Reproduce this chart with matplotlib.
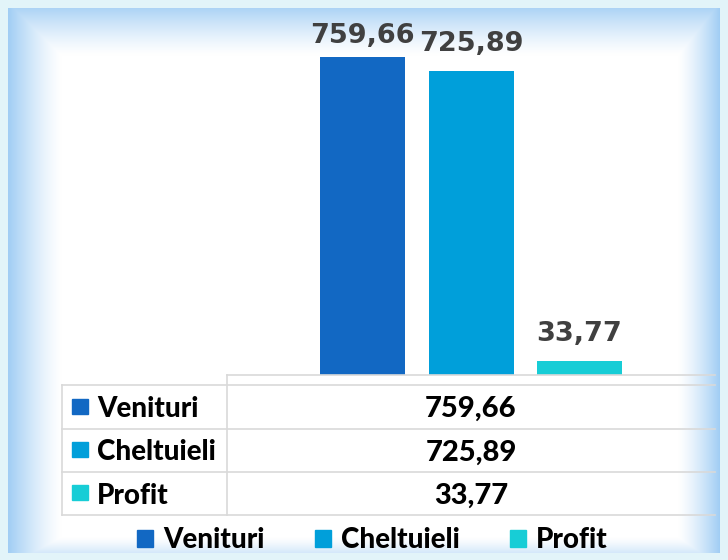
import numpy as np
import matplotlib
matplotlib.use('Agg')
import matplotlib.pyplot as plt
from matplotlib.patches import Patch, Rectangle

series = ['Venituri', 'Cheltuieli', 'Profit']
values = [759.66, 725.89, 33.77]
colors = ['#1268c3', '#009fda', '#17cdd6']

def fmt(v):
    return f"{v:.2f}".replace('.', ',')

W, H = 728, 560
fig = plt.figure(figsize=(W / 100, H / 100), dpi=100)

def px(x0, y0, x1, y1):
    return [x0 / W, 1 - y1 / H, (x1 - x0) / W, (y1 - y0) / H]

# ---- decorative background (bevelled light-blue frame) ----
bg = fig.add_axes([0, 0, 1, 1], zorder=-10)
yy, xx = np.mgrid[0:H, 0:W] + 0.5
sl = np.clip(1 - (xx - 8) / 54, 0, 1)
st = np.clip(1 - (yy - 8) / 48, 0, 1) * 0.9
sr = np.clip(1 - (720 - xx) / 42, 0, 1)
sb = np.clip(1 - (553 - yy) / 16, 0, 1) * 0.55
s = np.maximum.reduce([sl, st, sr, sb]) ** 1.3
blue = np.array([160, 205, 244]) / 255
img = (1 - s[..., None]) * 1.0 + s[..., None] * blue
outer = (xx < 8) | (yy < 8) | (xx > 720) | (yy > 553)
img[outer] = np.array([226, 244, 249]) / 255
bg.imshow(img, extent=(0, W, H, 0), aspect='auto', interpolation='bilinear')
bg.axis('off')

# ---- bars ----
ax = fig.add_axes(px(227, 40.1, 715, 375))
ax.set_facecolor('none')
ax.set_xlim(-0.5, 0.5)
ax.set_ylim(0, 800)
step = 108.5 / 488
bw = 85 / 488
xs = [(i - 1) * step for i in range(len(values))]
ax.bar(xs, values, width=bw, color=colors, zorder=3)
for x, v in zip(xs, values):
    ax.text(x, min(v + 48, 792), fmt(v), ha='center', va='baseline',
            family='DejaVu Sans', weight='bold', size=19.5, color='#404040',
            clip_on=False)
ax.axis('off')

# ---- data table ----
tax = fig.add_axes([0, 0, 1, 1], zorder=2)
tax.set_facecolor('none')
tax.set_xlim(0, W)
tax.set_ylim(H, 0)
tax.axis('off')
gc = '#d9d9d9'
lw = 1.2
left, split, right = 62, 227, 715
top_axis, top_tab = 375, 385
row_edges = [385, 429, 472, 515]
tax.plot([split, right], [top_axis, top_axis], color=gc, lw=lw)
for yv in row_edges:
    tax.plot([left, right], [yv, yv], color=gc, lw=lw)
tax.plot([split, split], [top_axis, row_edges[-1]], color=gc, lw=lw)
tax.plot([left, left], [top_tab, row_edges[-1]], color=gc, lw=lw)

tfont = dict(family='Lato', weight=900, size=20, color='black')
for i, (name, v, c) in enumerate(zip(series, values, colors)):
    yc = (row_edges[i] + row_edges[i + 1]) / 2
    tax.add_patch(Rectangle((72, yc - 8.5), 16, 15, color=c))
    tax.text(97, yc + 10, name, ha='left', va='baseline', **tfont)
    tax.text(471, yc + 10, fmt(v), ha='center', va='baseline',
             **{**tfont, 'size': 21})

# ---- legend ----
handles = [Patch(color=c) for c in colors]
fig.legend(handles, series, loc='center', bbox_to_anchor=(372.5 / W, 1 - 540 / H),
           ncol=3, frameon=False, handlelength=0.58, handleheight=0.58,
           handletextpad=0.36, columnspacing=1.8, borderpad=0,
           prop=dict(family='Lato', weight=900, size=20))

fig.savefig('out.png', dpi=100)
